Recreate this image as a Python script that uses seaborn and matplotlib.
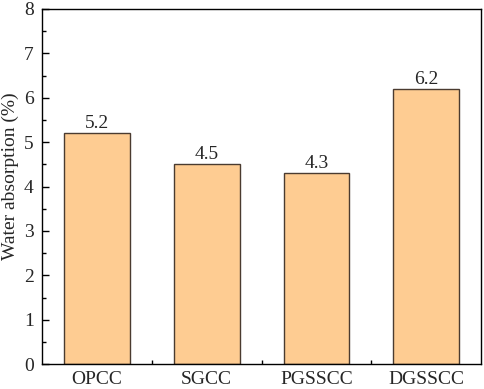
import pandas as pd
import numpy as np
import matplotlib
matplotlib.use('Agg')
import matplotlib.pyplot as plt
import seaborn as sns
from matplotlib.ticker import MultipleLocator, FixedLocator

# Данные
samples = ['OPCC', 'SGCC', 'PGSSCC', 'DGSSCC']
water_absorption = [5.2, 4.5, 4.3, 6.2]

df = pd.DataFrame({'sample': samples, 'value': water_absorption})

sns.set_style('ticks')
plt.rcParams['font.family'] = ['Liberation Serif', 'DejaVu Serif']

fig = plt.figure(figsize=(4.84, 3.89), dpi=100)
ax = fig.add_axes([0.087, 0.064, 0.907, 0.913])

sns.barplot(data=df, x='sample', y='value', color='#FECC92', saturation=1,
            width=0.6, edgecolor='#4a3b30', linewidth=1.0, ax=ax)

# Подписи значений над столбцами
for i, v in enumerate(water_absorption):
    ax.text(i, v + 0.02, f'{v:.1f}', ha='center', va='bottom', fontsize=14)

ax.set_xlim(-0.5, 3.5)
ax.set_ylim(0, 8)
ax.yaxis.set_major_locator(MultipleLocator(1))
ax.yaxis.set_minor_locator(MultipleLocator(0.5))
ax.xaxis.set_minor_locator(FixedLocator([0.5, 1.5, 2.5]))
ax.tick_params(which='both', direction='in', color='black', width=1,
               top=False, right=False, labelsize=14)
ax.tick_params(axis='x', pad=5)
ax.tick_params(axis='y', pad=6)
ax.tick_params(which='major', length=5)
ax.tick_params(which='minor', length=3)

ax.set_xlabel('')
ax.set_ylabel('Water absorption (%)', fontsize=14)
ax.yaxis.set_label_coords(-0.052, 0.53)
for s in ax.spines.values():
    s.set_visible(True)
    s.set_color('black')
    s.set_linewidth(1)

fig.savefig('out.png', dpi=100)
